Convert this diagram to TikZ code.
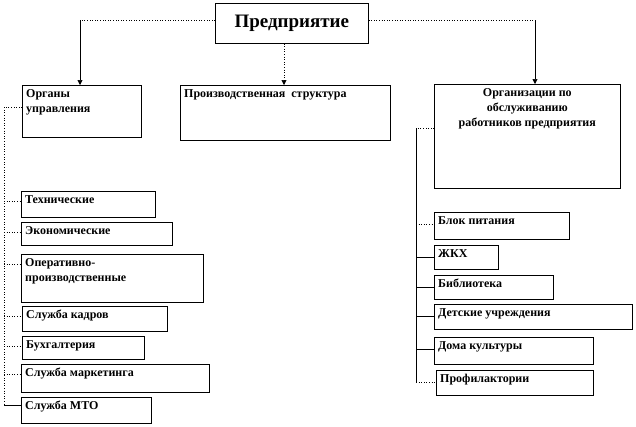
\documentclass[tikz,border=0pt]{standalone}
\usepackage{fontspec}
\setmainfont{Liberation Serif}
\usetikzlibrary{arrows.meta, positioning}

\tikzset{
  unit/.style={draw, line width=0.6pt, anchor=north west, inner sep=0pt},
  caption/.style={anchor=north west, inner sep=0pt, align=left, font=\bfseries\fontsize{12}{15}\selectfont},
  link/.style={dotted, line width=0.6pt},
  tie/.style={line width=0.6pt},
  feed/.style={-{Triangle[length=5pt,width=5pt]}, line width=0.6pt},
}

% name, x, y, width, height, text
\newcommand{\orgbox}[6]{%
  \node[unit, minimum width=#4pt, minimum height=#5pt] (#1) at (#2,#3) {};
  \node[caption] (#1-t) at ([xshift=4pt,yshift=-4pt]#1.north west) {#6};
}

\begin{document}
\begin{tikzpicture}[x=1pt, y=-1pt]
  \useasboundingbox (0,0) rectangle (636,426);

  \node[unit, minimum width=153pt, minimum height=40pt, font=\bfseries\fontsize{19}{22}\selectfont] (firm) at (215,3) {Предприятие};

  \orgbox{organy}{22}{85}{119}{52}{Органы\\управления}
  \orgbox{prod}{180}{85}{210}{55}{Производственная\ \ структура}
  \node[unit, minimum width=186pt, minimum height=104pt] (serv) at (434,84) {};
  \node[caption, align=center, anchor=north] (serv-t) at ([yshift=-4pt]serv.north) {Организации по\\обслуживанию\\работников предприятия};

  % left column
  \orgbox{tech}{21}{191}{134}{26}{Технические}
  \orgbox{econ}{21}{222}{151}{23}{Экономические}
  \orgbox{oper}{21}{254}{182}{48}{Оперативно-\\производственные}
  \orgbox{staff}{22}{306}{145}{25}{Служба кадров}
  \orgbox{acct}{22}{336}{122}{23}{Бухгалтерия}
  \orgbox{mark}{21}{364}{188}{28}{Служба маркетинга}
  \orgbox{mto}{21}{397}{130}{26}{Служба МТО}

  % right column
  \orgbox{food}{434}{212}{135}{27}{Блок питания}
  \orgbox{zhkh}{434}{245}{64}{24}{ЖКХ}
  \orgbox{lib}{434}{275}{119}{24}{Библиотека}
  \orgbox{kids}{434}{304}{198}{25}{Детские учреждения}
  \orgbox{club}{434}{337}{159}{27}{Дома культуры}
  \orgbox{sana}{436}{370}{157}{25}{Профилактории}

  % top connectors
  \coordinate (lturn) at (80,20);
  \coordinate (rturn) at (535,20);
  \draw[link] (firm.west |- lturn) -- (lturn);
  \draw[feed] (lturn) -- (lturn |- organy.north);
  \draw[link, -{Triangle[length=5pt,width=5pt]}] (firm.south -| 284,0) -- (284,85);
  \draw[link] (firm.east |- rturn) -- (rturn);
  \draw[feed] (rturn) -- (rturn |- serv.north);

  % left spine
  \coordinate (lspine) at (4,107);
  \draw[link] ([yshift=-22pt]organy.north west) -- (lspine) -- (4,405);
  \foreach \n in {tech,econ,oper,staff,acct,mark}
    \draw[link] ([yshift=-10pt]\n.north west -| lspine) -- ([yshift=-10pt]\n.north west);
  \draw[tie] ([yshift=-8pt]mto.north west -| lspine) -- ([yshift=-8pt]mto.north west);

  % right spine
  \coordinate (rspine) at (416,128);
  \draw[link] ([yshift=-44pt]serv.north west) -- (rspine);
  \draw[tie] (rspine) -- (416,383);
  \foreach \n/\s in {food/link,zhkh/tie,lib/tie,kids/tie,club/tie,sana/link}
    \draw[\s] ([yshift=-12pt]\n.north west -| rspine) -- ([yshift=-12pt]\n.north west);
\end{tikzpicture}
\end{document}
